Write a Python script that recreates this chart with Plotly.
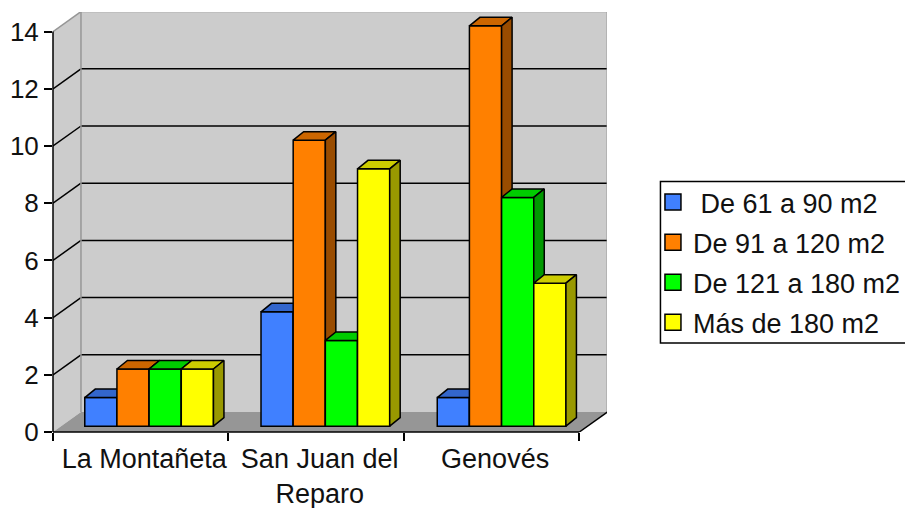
import plotly.graph_objects as go

categories = ["La Montañeta", "San Juan del<br>Reparo", "Genovés"]
series_names = ["\u00a0De 61 a 90 m2", "De 91 a 120 m2", "De 121 a 180 m2", "Más de 180 m2"]
values_61_90 = [1, 4, 1]
values_91_120 = [2, 10, 14]
values_121_180 = [2, 3, 8]
values_180_plus = [2, 9, 5]
series_values = [values_61_90, values_91_120, values_121_180, values_180_plus]
front_colors = ["#4080FF", "#FF8000", "#00FF00", "#FFFF00"]
top_colors = ["#3366CC", "#CC6600", "#00CC00", "#CCCC00"]
side_colors = ["#264D99", "#994C00", "#009900", "#999900"]
y_ticks = [0, 2, 4, 6, 8, 10, 12, 14]

FONT = "Liberation Sans, Arial, sans-serif"
FS = 26
FS_TXT = 27
W, H = 905, 508
L, R, T, B = 52.5, 607.0, 12.0, 432.0
PX_X = 175.6   # pixels per category
PX_Y = 28.6    # pixels per unit
XMAX = (R - L) / PX_X
YMAX = (B - T) / PX_Y
WALL_DX = 28 / PX_X
WALL_DY = 20 / PX_Y
BAR_W = 32.2 / PX_X
BAR_START = 31.8 / PX_X
GROUP_STEP = 176.4 / PX_X
BAR_BASE = 5.8 / PX_Y
BAR_DX = 10.5 / PX_X
BAR_DY = 8.5 / PX_Y
EDGE = 1.5

fig = go.Figure()
ncat = len(categories)

for s, vals in enumerate(series_values):
    xa = "x" if s == 0 else f"x{s + 1}"
    ya = "y" if s == 0 else f"y{s + 1}"
    lefts = [c * GROUP_STEP + BAR_START + s * BAR_W for c in range(ncat)]
    fig.add_trace(go.Bar(
        x=[l + BAR_W / 2 for l in lefts], y=vals,
        base=[BAR_BASE] * ncat, width=BAR_W,
        marker=dict(color=front_colors[s], line=dict(color="black", width=EDGE)),
        showlegend=False, xaxis=xa, yaxis=ya, name=series_names[s], hoverinfo="skip",
    ))
    for l, v in zip(lefts, vals):
        top = v + BAR_BASE
        r = l + BAR_W
        fig.add_trace(go.Scatter(
            x=[l, r, r + BAR_DX, l + BAR_DX, l],
            y=[top, top, top + BAR_DY, top + BAR_DY, top],
            mode="lines", fill="toself", fillcolor=top_colors[s],
            line=dict(color="black", width=EDGE),
            showlegend=False, xaxis=xa, yaxis=ya, hoverinfo="skip",
        ))
        fig.add_trace(go.Scatter(
            x=[r, r + BAR_DX, r + BAR_DX, r, r],
            y=[BAR_BASE, BAR_BASE + BAR_DY, top + BAR_DY, top, BAR_BASE],
            mode="lines", fill="toself", fillcolor=side_colors[s],
            line=dict(color="black", width=EDGE),
            showlegend=False, xaxis=xa, yaxis=ya, hoverinfo="skip",
        ))

# legend entries
for s, name in enumerate(series_names):
    fig.add_trace(go.Scatter(
        x=[None], y=[None], mode="markers", name=name, legendgroup=str(s),
        marker=dict(symbol="square", size=16, color=front_colors[s],
                    line=dict(color="black", width=EDGE)),
    ))

shapes = []
# left wall, back wall, floor
shapes.append(dict(type="path", layer="below", fillcolor="#CCCCCC", line=dict(width=0),
                   path=f"M0,0 L{WALL_DX},{WALL_DY} L{WALL_DX},{14 + WALL_DY} L0,14 Z"))
shapes.append(dict(type="rect", layer="below", fillcolor="#CCCCCC", line=dict(width=0),
                   x0=WALL_DX, x1=ncat + WALL_DX, y0=WALL_DY, y1=14 + WALL_DY))
shapes.append(dict(type="path", layer="below", fillcolor="#969696", line=dict(width=0),
                   path=f"M0,0 L{ncat},0 L{ncat + WALL_DX},{WALL_DY} L{WALL_DX},{WALL_DY} Z"))
# grid lines
for v in y_ticks[1:-1]:
    shapes.append(dict(type="line", layer="below", line=dict(color="black", width=1.5),
                       x0=0, y0=v, x1=WALL_DX, y1=v + WALL_DY))
    shapes.append(dict(type="line", layer="below", line=dict(color="black", width=1.5),
                       x0=WALL_DX, y0=v + WALL_DY, x1=ncat + WALL_DX, y1=v + WALL_DY))
# wall edges
gray = dict(color="#969696", width=1.5)
shapes.append(dict(type="line", layer="below", line=gray, x0=0, y0=14, x1=WALL_DX, y1=14 + WALL_DY))
shapes.append(dict(type="line", layer="below", line=gray, x0=WALL_DX, y0=14 + WALL_DY, x1=ncat + WALL_DX, y1=14 + WALL_DY))
shapes.append(dict(type="line", layer="below", line=gray, x0=WALL_DX, y0=WALL_DY, x1=WALL_DX, y1=14 + WALL_DY))
shapes.append(dict(type="line", layer="below", line=gray, x0=ncat + WALL_DX, y0=WALL_DY, x1=ncat + WALL_DX, y1=14 + WALL_DY))
# floor edge / axes (paper refs so the strokes are not clipped by the plot area)
blk = dict(color="black", width=1.5)
shapes.append(dict(type="line", layer="above", xref="paper", yref="paper", line=blk,
                   x0=0, y0=0, x1=0, y1=14 / YMAX))
shapes.append(dict(type="line", layer="above", xref="paper", yref="paper", line=blk,
                   x0=0, y0=0, x1=ncat / XMAX, y1=0))
shapes.append(dict(type="line", layer="below", line=blk, x0=ncat, y0=0, x1=ncat + WALL_DX, y1=WALL_DY))
# legend box
shapes.append(dict(type="rect", layer="below", xref="paper", yref="paper", fillcolor="white",
                   line=dict(color="black", width=1.5),
                   x0=(660.5 - L) / (R - L), x1=(910 - L) / (R - L),
                   y0=1 - (343 - T) / (B - T), y1=1 - (181.5 - T) / (B - T)))

layout = dict(
    width=W, height=H, autosize=False,
    margin=dict(l=L, r=W - R, t=T, b=H - B, pad=0, autoexpand=False),
    paper_bgcolor="white", plot_bgcolor="white",
    font=dict(family=FONT, size=FS, color="#111111"),
    barmode="overlay", showlegend=True, shapes=shapes,
    xaxis=dict(range=[0, XMAX], showgrid=False, zeroline=False, showline=False, automargin=False,
               tickmode="array", tickvals=[i + 0.52 for i in range(ncat)], ticktext=categories,
               ticks="", ticklen=0, tickangle=0, tickfont=dict(size=FS_TXT), ticklabelstandoff=8,
               minor=dict(tickmode="array", tickvals=list(range(ncat + 1)), ticks="outside",
                          ticklen=8, tickwidth=1.5, tickcolor="black", showgrid=False)),
    yaxis=dict(range=[0, YMAX], showgrid=False, zeroline=False, showline=False, automargin=False,
               tickmode="array", tickvals=y_ticks, ticks="outside", ticklen=8, tickwidth=1.5,
               tickcolor="black", tickfont=dict(size=FS)),
    legend=dict(x=(653 - L) / (R - L), y=1 - (178 - T) / (B - T), xanchor="left", yanchor="top",
                bgcolor="rgba(0,0,0,0)", borderwidth=0,
                traceorder="grouped", tracegroupgap=2, font=dict(size=FS_TXT), itemclick=False,
                itemdoubleclick=False),
)
for s in range(1, len(series_values)):
    layout[f"xaxis{s + 1}"] = dict(overlaying="x", matches="x", visible=False)
    layout[f"yaxis{s + 1}"] = dict(overlaying="y", matches="y", visible=False)
fig.update_layout(**layout)
fig.write_html("out.html", config=dict(displayModeBar=False),
               post_script="document.body.style.margin='0';document.body.style.overflow='hidden';")
